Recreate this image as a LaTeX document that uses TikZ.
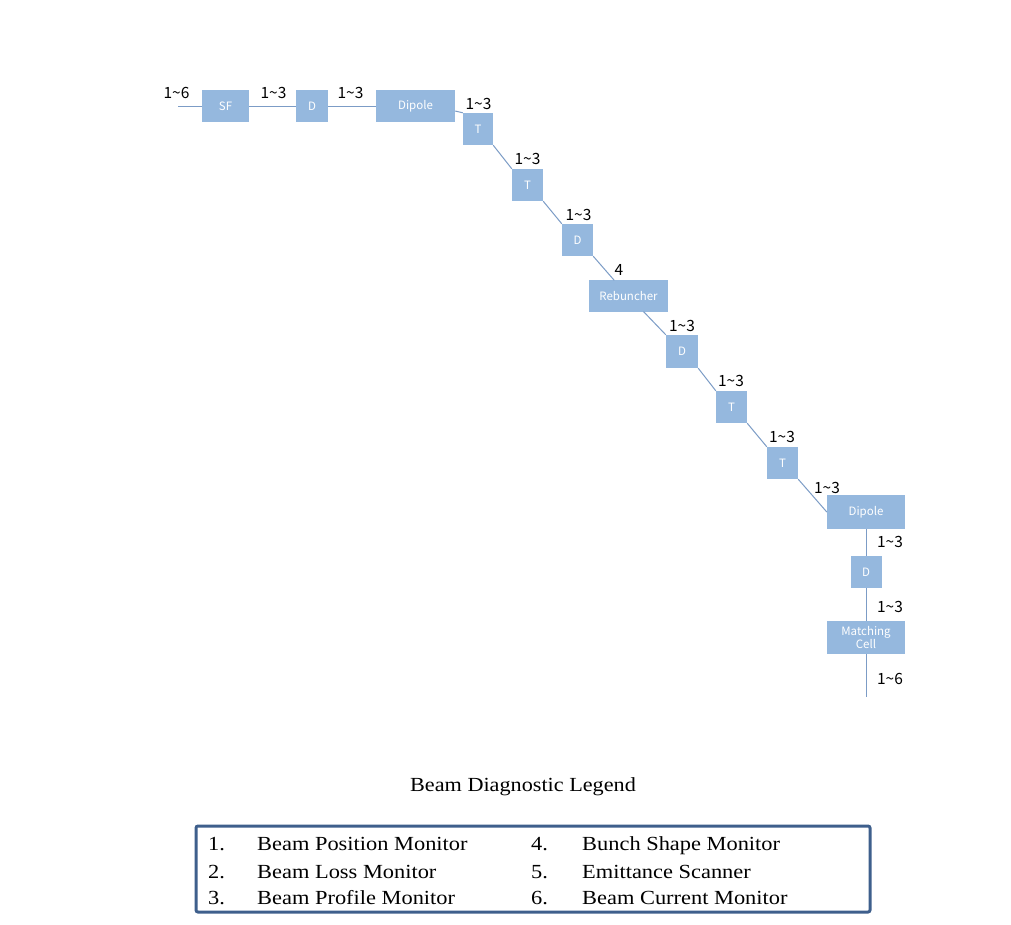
\documentclass[tikz,border=0pt]{standalone}
\usepackage{fontspec}
\setmainfont{Liberation Serif}
\newfontfamily\kor{Noto Sans CJK KR}
\usetikzlibrary{calc}
\definecolor{boxfill}{HTML}{95B8DE}
\definecolor{beamline}{HTML}{7C9CC6}
\definecolor{legendedge}{HTML}{3E5F8C}
\begin{document}
\begin{tikzpicture}[x=1pt,y=-1pt,
  elem/.style={draw=none,fill=boxfill,text=white,font=\kor\fontsize{11.5}{12}\selectfont,
    inner sep=0pt,align=center,minimum height=32pt},
  sq/.style={elem,minimum width=31pt},
  wide/.style={elem,minimum width=79pt},
  lab/.style={font=\kor\fontsize{15.5}{16}\selectfont,inner sep=0pt},
  beam/.style={draw=beamline,line width=1pt},
  legtxt/.style={font=\fontsize{20}{22}\selectfont,anchor=base west,inner sep=0pt,xscale=1.12}]
\useasboundingbox (0,0) rectangle (1011,924);
\fill[white] (0,0) rectangle (1011,924);
% elements
\node[elem,minimum width=47pt] (sf) at (225.5,106) {SF};
\node[sq,minimum width=32pt] (d1) at (312,106) {D};
\node[wide] (dip1) at (415.5,106) {Dipole};
\node[sq,minimum width=30pt] (t1) at (478,129) {T};
\node[sq] (t2) at (527.5,185) {T};
\node[sq] (d2) at (577.5,240) {D};
\node[wide] (reb) at (628.5,296) {Rebuncher};
\node[sq,minimum width=32pt,minimum height=33pt] (d3) at (682,351.5) {D};
\node[sq] (t3) at (731.5,407) {T};
\node[sq] (t4) at (782.5,463) {T};
\node[wide,minimum width=78pt,minimum height=34pt] (dip2) at (866,512) {Dipole};
\node[sq] (d4) at (866,572) {D};
\node[wide,minimum width=78pt,minimum height=33pt,font=\kor\fontsize{11.5}{13.5}\selectfont] (mc) at (866,637.5) {Matching\\Cell};
\coordinate (start) at (178,106);
\coordinate (finish) at (866,697);
% beam line
\draw[beam] (start) -- (sf.west);
\draw[beam] (sf.east) -- (d1.west);
\draw[beam] (d1.east) -- (dip1.west);
\draw[beam] ([yshift=-5pt]dip1.east) -- (t1.north west);
\draw[beam] (t1.south east) -- (t2.north west);
\draw[beam] (t2.south east) -- (d2.north west);
\draw[beam] (d2.south east) -- ($(d2.center)!0.72!(reb.center)$);
\draw[beam] ($(reb.center)!0.28!(d3.center)$) -- (d3.north west);
\draw[beam] (d3.south east) -- (t3.north west);
\draw[beam] (t3.south east) -- (t4.north west);
\draw[beam] (t4.south east) -- (dip2.west);
\draw[beam] (dip2.south) -- (d4.north);
\draw[beam] (d4.south) -- (mc.north);
\draw[beam] (mc.south) -- (finish);
% labels
\node[lab] (l1) at (176.5,93) {1\textasciitilde6};
\node[lab] (l2) at (273.5,93) {1\textasciitilde3};
\node[lab] (l3) at (350.5,93) {1\textasciitilde3};
\node[lab] (l4) at (478.5,104) {1\textasciitilde3};
\node[lab] (l5) at (527.5,159) {1\textasciitilde3};
\node[lab] (l6) at (578.5,215) {1\textasciitilde3};
\node[lab] (l7) at (619,270) {4};
\node[lab] (l8) at (682,326) {1\textasciitilde3};
\node[lab] (l9) at (731,381) {1\textasciitilde3};
\node[lab] (l10) at (782,437) {1\textasciitilde3};
\node[lab] (l11) at (827,488) {1\textasciitilde3};
\node[lab] (l12) at (890,542) {1\textasciitilde3};
\node[lab] (l13) at (890,607) {1\textasciitilde3};
\node[lab] (l14) at (890,679) {1\textasciitilde6};
% legend
\node[font=\fontsize{20}{22}\selectfont,inner sep=0pt,anchor=base,xscale=1.11] (title) at (523,791) {Beam Diagnostic Legend};
\draw[legendedge,line width=3pt,rounded corners=2pt] (196,826) rectangle (870,912);
\node[legtxt] (n1) at (208,850) {1.};
\node[legtxt] (b1) at (257,850) {Beam Position Monitor};
\node[legtxt] (n2) at (208,878) {2.};
\node[legtxt] (b2) at (257,878) {Beam Loss Monitor};
\node[legtxt] (n3) at (208,904) {3.};
\node[legtxt] (b3) at (257,904) {Beam Profile Monitor};
\node[legtxt] (n4) at (531,850) {4.};
\node[legtxt] (b4) at (582,850) {Bunch Shape Monitor};
\node[legtxt] (n5) at (531,878) {5.};
\node[legtxt] (b5) at (582,878) {Emittance Scanner};
\node[legtxt] (n6) at (531,904) {6.};
\node[legtxt] (b6) at (582,904) {Beam Current Monitor};
\end{tikzpicture}
\end{document}
